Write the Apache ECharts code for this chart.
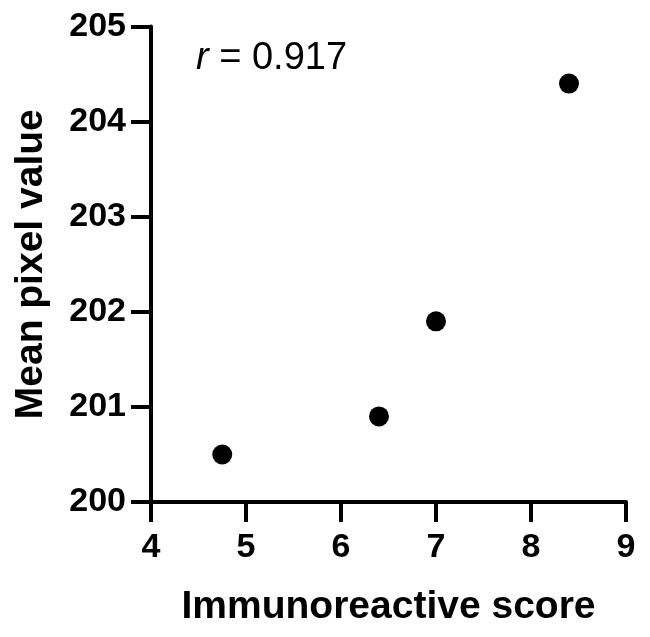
<!DOCTYPE html>
<html>
<head>
<meta charset="utf-8">
<script src="https://cdn.jsdelivr.net/npm/echarts@6/dist/echarts.min.js"></script>
<style>html,body{margin:0;padding:0;background:#fff;}#c{width:650px;height:637px;}</style>
</head>
<body>
<div id="c"></div>
<script>
const xValues = [4.75, 6.4, 7.0, 8.4];
const yValues = [200.5, 200.9, 201.9, 204.4];
const xTicks = [4, 5, 6, 7, 8, 9];
const yTicks = [200, 201, 202, 203, 204, 205];
const xTitle = 'Immunoreactive score';
const yTitle = 'Mean pixel value';
const annotation = '0.917';

const chart = echarts.init(document.getElementById('c'));
const font = '"Liberation Sans", Arial, sans-serif';
chart.setOption({
  animation: false,
  backgroundColor: '#fff',
  grid: { left: 151, right: 24, top: 26.5, bottom: 135, containLabel: false },
  xAxis: {
    type: 'value', min: xTicks[0], max: xTicks[xTicks.length - 1], interval: 1,
    name: xTitle, nameLocation: 'middle', nameGap: 86,
    nameTextStyle: { fontFamily: font, fontWeight: 'bold', fontSize: 39, color: '#000' },
    axisLine: { show: true, lineStyle: { color: '#000', width: 4 } },
    axisTick: { show: true, length: 20, lineStyle: { color: '#000', width: 4 } },
    axisLabel: { fontFamily: font, fontWeight: 'bold', fontSize: 34, color: '#000', margin: 29 },
    splitLine: { show: false }
  },
  yAxis: {
    type: 'value', min: yTicks[0], max: yTicks[yTicks.length - 1], interval: 1,
    name: yTitle, nameLocation: 'middle', nameGap: 100,
    nameTextStyle: { fontFamily: font, fontWeight: 'bold', fontSize: 39, color: '#000' },
    axisLine: { show: true, lineStyle: { color: '#000', width: 4 } },
    axisTick: { show: true, length: 20, lineStyle: { color: '#000', width: 4 } },
    axisLabel: { fontFamily: font, fontWeight: 'bold', fontSize: 34, color: '#000', margin: 25 },
    splitLine: { show: false }
  },
  graphic: [{
    type: 'text', x: 196, y: 58.5,
    style: {
      text: '{i|r} = ' + annotation,
      verticalAlign: 'middle', align: 'left',
      rich: { i: { fontStyle: 'italic', fontFamily: font, fontSize: 38, fill: '#000' } },
      font: '38px ' + font, fill: '#000'
    }
  }],
  series: [{
    type: 'scatter',
    data: xValues.map((x, i) => [x, yValues[i]]),
    symbol: 'circle', symbolSize: 20,
    itemStyle: { color: '#000', opacity: 1 }
  }]
});
</script>
</body>
</html>
